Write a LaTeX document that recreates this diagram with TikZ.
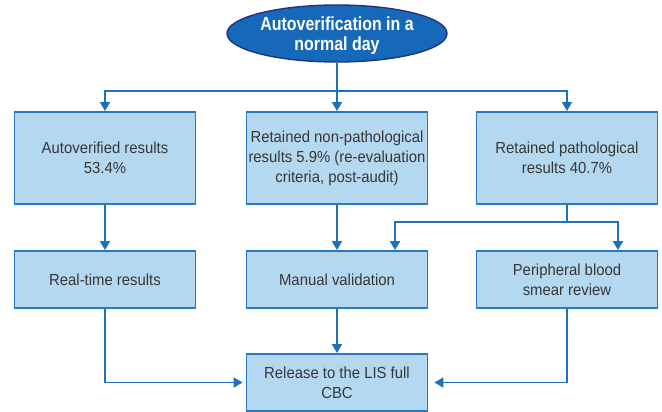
\documentclass[tikz,border=0pt]{standalone}
\usepackage{fontspec}
\setmainfont{Liberation Sans}
\newfontfamily\boxfont[FakeStretch=0.93]{Liberation Sans}
\newfontfamily\headfont[FakeStretch=0.84]{Liberation Sans}
\usetikzlibrary{shapes.geometric,arrows.meta}

\definecolor{boxfill}{RGB}{180,216,240}
\definecolor{boxedge}{RGB}{40,120,195}
\definecolor{linecol}{RGB}{30,114,188}
\definecolor{headfill}{RGB}{22,104,184}
\definecolor{headedge}{RGB}{32,52,128}
\definecolor{txt}{RGB}{55,55,55}

\tikzset{
  x=1pt, y=1pt,
  stepbox/.style={rectangle, draw=boxedge, fill=boxfill, line width=1.8pt,
    minimum width=181pt, inner sep=0pt, align=center, text=txt,
    font=\boxfont\fontsize{16}{20}\selectfont},
  tallbox/.style={stepbox, minimum height=92pt},
  lowbox/.style={stepbox, minimum height=57pt},
  headnode/.style={ellipse, draw=headedge, fill=headfill, line width=1.4pt,
    minimum width=220pt, minimum height=57pt, inner sep=0pt},
  headtext/.style={align=center, inner sep=0pt, text=white,
    font=\headfont\bfseries\fontsize{19}{20}\selectfont},
  arr/.style={draw=linecol, line width=1.8pt,
    -{Triangle[width=10pt,length=9pt]}},
  plain/.style={draw=linecol, line width=1.8pt}
}

\begin{document}
\begin{tikzpicture}
\useasboundingbox (0,0) rectangle (662,-412);

% top of the flow
\node[headnode] (top) at (337,-33.5) {};
\node[headtext] (toptitle) at (337,-36) {Autoverification in a\\normal day};

% first row
\node[tallbox] (a1) at (105,-158) {Autoverified results\\53.4\%};
\node[tallbox] (a2) at (337,-158) {Retained non-pathological\\results 5.9\% (re-evaluation\\criteria, post-audit)};
\node[tallbox] (a3) at (567,-158) {Retained pathological\\results 40.7\%};

% second row
\node[lowbox] (b1) at (105,-279.5) {Real-time results};
\node[lowbox] (b2) at (337,-279.5) {Manual validation};
\node[lowbox] (b3) at (567,-279.5) {Peripheral blood\\smear review};

% final step
\node[lowbox] (c) at (337,-382.5) {Release to the LIS full\\CBC};

% split below the ellipse
\coordinate (j1) at (337,-91);
\draw[plain] (top.south) -- (j1);
\draw[arr] (j1) -| (a1.north);
\draw[arr] (j1) -- (a2.north);
\draw[arr] (j1) -| (a3.north);

% first row to second row
\draw[arr] (a1.south) -- (b1.north);
\draw[arr] (a2.south) -- (b2.north);
\coordinate (j2) at (567,-222);
\draw[plain] (a3.south) -- (j2);
\draw[arr] (j2) -| ([xshift=58pt]b2.north);
\draw[arr] (j2) -| ([xshift=51pt]b3.north);

% second row to release
\draw[arr] (b2.south) -- (c.north);
\draw[arr, shorten >=3pt] (b1.south) |- (c.west);
\draw[arr, shorten >=6pt] (b3.south) |- (c.east);
\end{tikzpicture}
\end{document}
